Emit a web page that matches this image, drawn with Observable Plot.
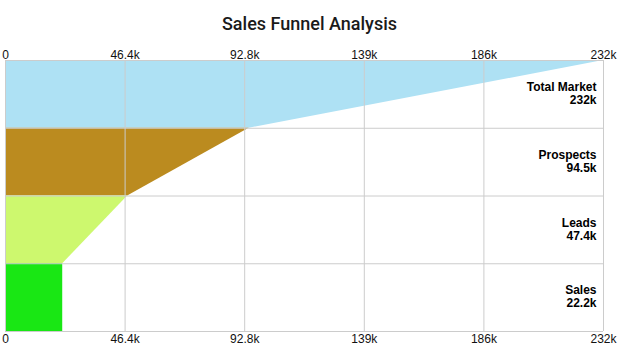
<!DOCTYPE html>
<html>
<head>
<meta charset="utf-8">
<script src="https://cdn.jsdelivr.net/npm/d3@7"></script>
<script src="https://cdn.jsdelivr.net/npm/@observablehq/plot@0.6"></script>
<style>
  body { margin: 0; background: #fff; }
  #title { height: 36px; line-height: 47px; text-align: center; font-family: Roboto, "Liberation Sans", sans-serif; font-size: 18px; font-weight: 500; color: #1a1a1a; }
</style>
</head>
<body>
<div id="title">Sales Funnel Analysis</div>
<div id="chart"></div>
<script>
const stages = ["Total Market", "Prospects", "Leads", "Sales"];
const values = [232000, 94500, 47400, 22200];
const colors = ["#AEE1F4", "#BB8B1F", "#CDF86E", "#19E714"];
const tickValues = [0, 46400, 92800, 139200, 185600, 232000];

const fmt = d3.format(".3~s");

const poly = [];
stages.forEach((s, i) => {
  const next = i < values.length - 1 ? values[i + 1] : values[i];
  poly.push({stage: s, y: i, x: values[i]});
  poly.push({stage: s, y: i + 1, x: next});
});
const labels = stages.map((s, i) => ({stage: s, y: i + 0.5, text: s + "\n" + fmt(values[i])}));
const bounds = d3.range(stages.length + 1);

const chart = Plot.plot({
  width: 619,
  height: 328,
  marginLeft: 5,
  marginRight: 16,
  marginTop: 24,
  marginBottom: 33,
  style: {fontFamily: "'Liberation Sans', Arial, sans-serif", fontSize: "12px", color: "#111"},
  x: {domain: [0, 232000]},
  y: {domain: [0, stages.length], reverse: true, axis: null},
  color: {domain: stages, range: colors},
  marks: [
    Plot.areaX(poly, {x1: 0, x2: "x", y: "y", z: "stage", fill: "stage", fillOpacity: 1, curve: "linear"}),
    Plot.ruleX(tickValues, {stroke: "#cccccc", strokeWidth: 1}),
    Plot.ruleY(bounds, {stroke: "#cccccc", strokeWidth: 1}),
    Plot.axisX(tickValues, {anchor: "top", tickSize: 0, tickPadding: 2, tickFormat: fmt, fontSize: 12, label: null}),
    Plot.axisX(tickValues, {anchor: "bottom", tickSize: 0, tickPadding: 3, tickFormat: fmt, fontSize: 12, label: null}),
    Plot.text(labels, {x: 232000, y: "y", text: "text", textAnchor: "end", dx: -7, dy: -1, fontWeight: "bold", fontSize: 12, lineHeight: 1.1, fill: "#000"})
  ]
});
document.getElementById("chart").appendChild(chart);
</script>
</body>
</html>
